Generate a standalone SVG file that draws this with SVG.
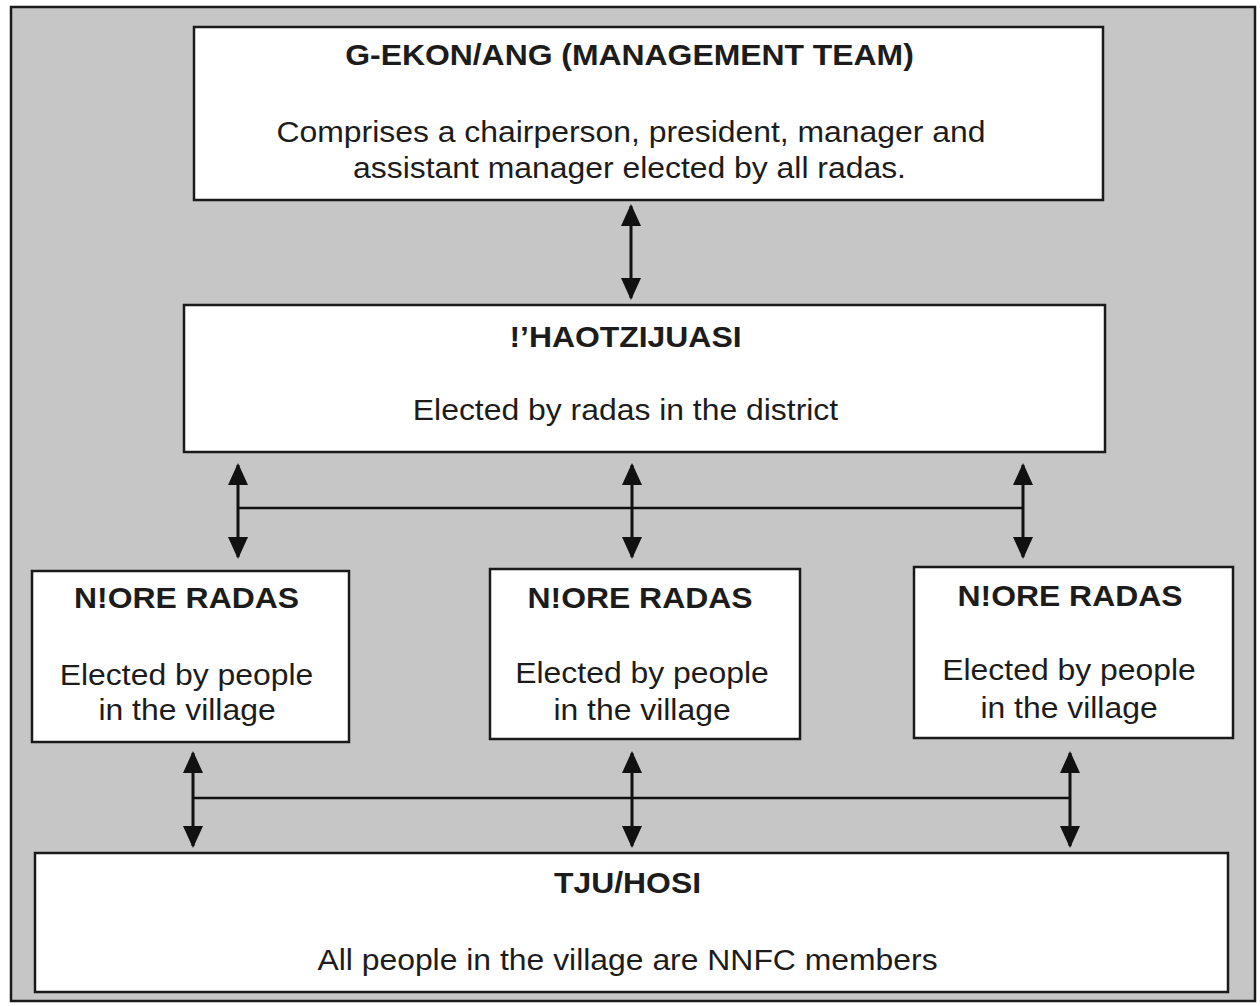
<svg xmlns="http://www.w3.org/2000/svg" width="1260" height="1006" viewBox="0 0 1260 1006">
  <style>
    .frame { fill: #c6c6c6; stroke: #1a1a1a; stroke-width: 2.5; }
    .box { fill: #ffffff; stroke: #1a1a1a; stroke-width: 2.5; }
    text { font-family: "Liberation Sans", Arial, sans-serif; font-size: 29px; fill: #1c1c1c; text-anchor: middle; }
    .head { font-weight: bold; }
    .link { fill: none; stroke: #111111; stroke-width: 3; }
    .rail { fill: none; stroke: #111111; stroke-width: 2.5; }
  </style>
  <defs>
    <marker id="tip" viewBox="0 0 22 22" refX="20" refY="11" markerWidth="22" markerHeight="22" markerUnits="userSpaceOnUse" orient="auto-start-reverse">
      <path d="M0,1 L22,11 L0,21 Z" fill="#111111"/>
    </marker>
  </defs>

  <rect width="1260" height="1006" fill="#ffffff"/>
  <rect class="frame" x="11" y="7" width="1244" height="994"/>

  <!-- management team; lettering is set slightly wide (scale 1.1 horizontally) -->
  <g id="management-team">
    <rect class="box" x="194" y="27" width="909" height="173"/>
    <text class="head" transform="translate(629.5 65) scale(1.1 1)">G-EKON/ANG (MANAGEMENT TEAM)</text>
    <text transform="translate(631 142) scale(1.1 1)">Comprises a chairperson, president, manager and</text>
    <text transform="translate(629.5 178) scale(1.1 1)">assistant manager elected by all radas.</text>
  </g>

  <!-- district level -->
  <g id="haotzijuasi">
    <rect class="box" x="184" y="305" width="921" height="147"/>
    <text class="head" transform="translate(625.5 347) scale(1.1 1)">!’HAOTZIJUASI</text>
    <text transform="translate(625.5 420) scale(1.1 1)">Elected by radas in the district</text>
  </g>

  <!-- village radas -->
  <g id="radas-left">
    <rect class="box" x="32" y="571" width="317" height="171"/>
    <text class="head" transform="translate(186.5 608) scale(1.1 1)">N!ORE RADAS</text>
    <text transform="translate(186.5 685) scale(1.1 1)">Elected by people</text>
    <text transform="translate(187 720) scale(1.1 1)">in the village</text>
  </g>
  <g id="radas-middle">
    <rect class="box" x="490" y="569" width="310" height="170"/>
    <text class="head" transform="translate(640 608) scale(1.1 1)">N!ORE RADAS</text>
    <text transform="translate(642 683) scale(1.1 1)">Elected by people</text>
    <text transform="translate(642 720) scale(1.1 1)">in the village</text>
  </g>
  <g id="radas-right">
    <rect class="box" x="914" y="567" width="319" height="171"/>
    <text class="head" transform="translate(1070 606) scale(1.1 1)">N!ORE RADAS</text>
    <text transform="translate(1069 680) scale(1.1 1)">Elected by people</text>
    <text transform="translate(1069 718) scale(1.1 1)">in the village</text>
  </g>

  <!-- members -->
  <g id="tju-hosi">
    <rect class="box" x="35" y="853" width="1193" height="139"/>
    <text class="head" transform="translate(627.5 893) scale(1.1 1)">TJU/HOSI</text>
    <text transform="translate(627.5 970) scale(1.1 1)">All people in the village are NNFC members</text>
  </g>

  <!-- connectors -->
  <g id="connectors">
    <line class="link" x1="631" y1="206" x2="631" y2="298" marker-start="url(#tip)" marker-end="url(#tip)"/>

    <line class="rail" x1="238" y1="508" x2="1023" y2="508"/>
    <line class="link" x1="238" y1="465" x2="238" y2="557" marker-start="url(#tip)" marker-end="url(#tip)"/>
    <line class="link" x1="632" y1="465" x2="632" y2="557" marker-start="url(#tip)" marker-end="url(#tip)"/>
    <line class="link" x1="1023" y1="465" x2="1023" y2="557" marker-start="url(#tip)" marker-end="url(#tip)"/>

    <line class="rail" x1="193" y1="798" x2="1070" y2="798"/>
    <line class="link" x1="193" y1="753" x2="193" y2="846" marker-start="url(#tip)" marker-end="url(#tip)"/>
    <line class="link" x1="632" y1="753" x2="632" y2="846" marker-start="url(#tip)" marker-end="url(#tip)"/>
    <line class="link" x1="1070" y1="753" x2="1070" y2="846" marker-start="url(#tip)" marker-end="url(#tip)"/>
  </g>
</svg>
